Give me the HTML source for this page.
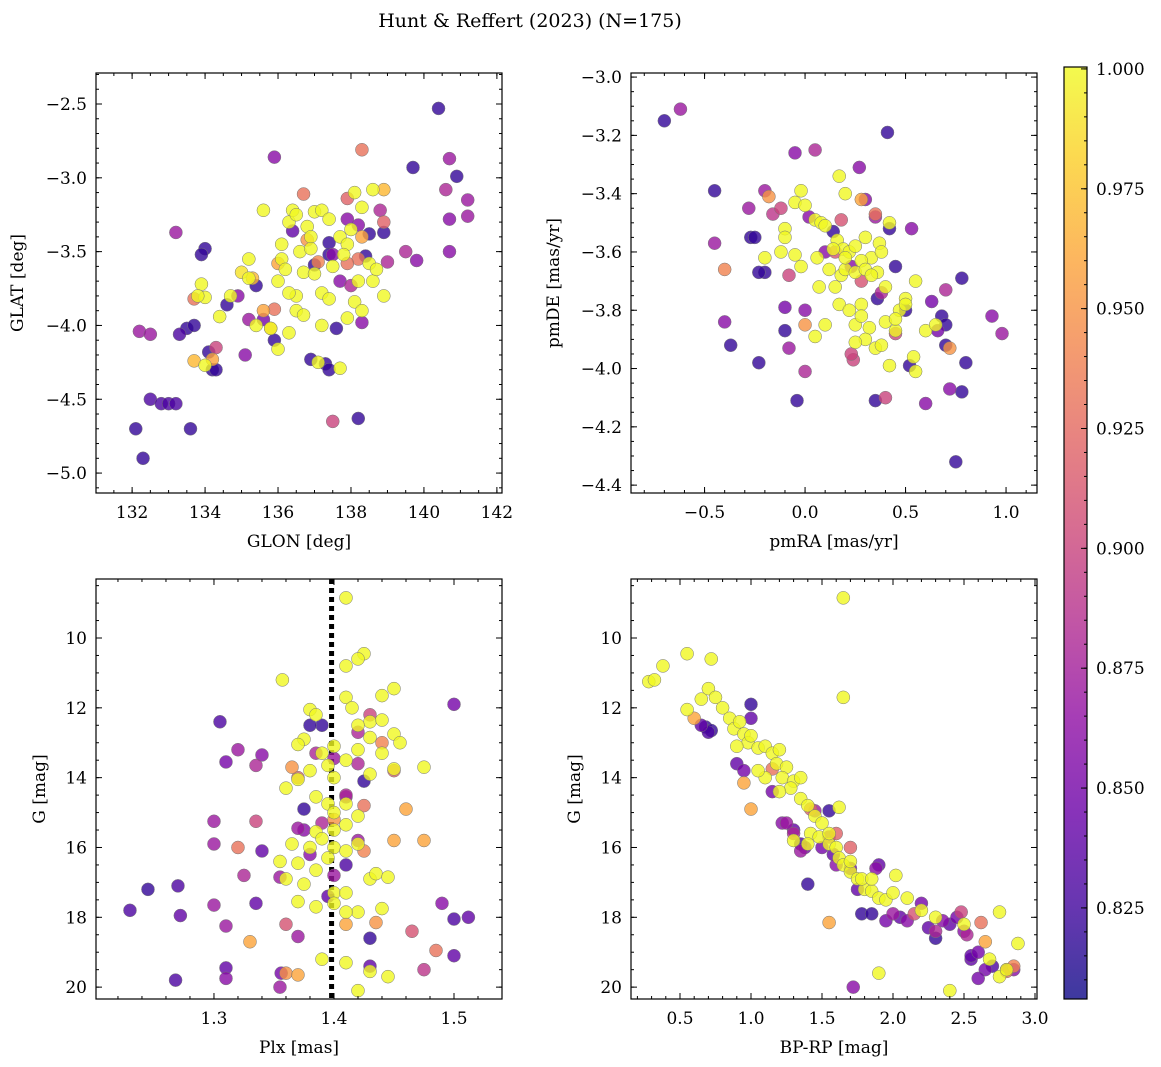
<!DOCTYPE html>
<html><head><meta charset="utf-8"><style>
html,body{margin:0;padding:0;background:#fff;}
svg{display:block;font-family:"DejaVu Serif","Liberation Serif",serif;}
</style></head><body>
<svg id="chart" width="1161" height="1067" viewBox="0 0 1161 1067" xmlns="http://www.w3.org/2000/svg">
<text x="530" y="27" font-size="19" text-anchor="middle">Hunt &amp; Reffert (2023) (N=175)</text>
</svg>
<script>
// ---- Panel 1: GLON vs GLAT ----
const p1X=[132.1,132.3,132.5,132.8,133.0,133.2,133.6,133.5,133.7,133.3,132.2,132.5,133.2,134.0,133.9,134.1,134.2,134.3,134.6,134.9,135.1,135.2,135.4,135.9,135.6,135.9,136.4,137.4,137.4,136.9,137.3,137.4,137.6,138.2,138.5,138.4,138.9,139.7,140.4,140.9,140.7,141.2,141.2,140.6,140.7,140.7,139.8,139.5,139.0,138.8,138.2,137.9,137.5,137.0,137.7,138.0,138.3,137.5,138.3,136.7,137.9,138.9,138.2,135.8,135.9,134.2,133.7,133.7,134.3,135.6,135.3,136.0,136.8,137.1,137.9,138.3,138.9,
135.6,135.2,135.2,135.0,134.7,134.4,134.0,133.9,133.8,134.0,135.4,135.8,136.0,136.0,136.1,136.2,136.3,136.1,136.5,136.3,136.6,136.7,136.4,136.8,136.9,137.0,137.2,137.4,137.0,137.2,137.4,137.2,137.5,137.7,137.9,138.0,138.1,138.3,138.6,138.2,138.1,138.3,137.9,137.7,137.1,136.5,136.7,136.3,138.5,138.6,138.9,138.7,137.8,136.9,136.5];
const p1Y=[-4.70,-4.90,-4.50,-4.53,-4.53,-4.53,-4.70,-4.02,-4.00,-4.06,-4.04,-4.06,-3.37,-3.48,-3.52,-4.18,-4.30,-4.30,-3.86,-3.80,-4.20,-3.96,-3.73,-4.10,-3.96,-2.86,-3.36,-3.44,-3.52,-4.23,-4.26,-4.30,-4.02,-4.63,-3.38,-3.53,-3.37,-2.93,-2.53,-2.99,-2.87,-3.15,-3.26,-3.08,-3.28,-3.50,-3.56,-3.50,-3.57,-3.22,-3.32,-3.28,-3.52,-3.59,-3.70,-3.73,-3.98,-4.65,-2.81,-3.11,-3.14,-3.30,-3.55,-4.02,-3.89,-4.23,-4.24,-3.82,-4.15,-3.90,-3.68,-3.58,-3.42,-3.57,-3.58,-3.40,-3.08,
-3.22,-3.55,-3.68,-3.64,-3.80,-3.94,-3.81,-3.72,-3.80,-4.27,-4.00,-4.02,-4.16,-3.70,-3.55,-3.62,-3.30,-3.45,-3.80,-3.78,-3.50,-3.64,-3.22,-3.33,-3.40,-3.23,-3.22,-3.28,-3.65,-3.78,-3.82,-4.00,-3.60,-3.40,-3.45,-3.35,-3.10,-3.20,-3.08,-3.70,-3.84,-3.90,-3.95,-4.29,-4.25,-3.90,-3.93,-4.05,-3.58,-3.70,-3.80,-3.62,-3.52,-3.48,-3.25];
const p1C=[0.82,0.82,0.83,0.83,0.83,0.83,0.82,0.82,0.82,0.83,0.87,0.87,0.87,0.82,0.82,0.82,0.82,0.82,0.82,0.86,0.86,0.87,0.82,0.82,0.85,0.86,0.84,0.82,0.82,0.82,0.82,0.82,0.82,0.82,0.82,0.82,0.82,0.82,0.82,0.82,0.87,0.87,0.87,0.88,0.86,0.86,0.86,0.88,0.88,0.88,0.86,0.86,0.86,0.82,0.86,0.88,0.86,0.90,0.93,0.93,0.92,0.92,0.93,0.96,0.93,0.96,0.97,0.93,0.90,0.96,0.97,0.96,0.95,0.94,0.93,0.96,0.97,
1,1,1,0.99,1,1,1,1,1,1,1,1,1,1,1,1,1,1,1,1,1,1,1,1,1,1,1,1,1,1,1,1,1,1,1,1,1,1,1,1,1,1,1,1,1,1,1,1,1,1,1,1,1,1,1];

// ---- Panel 2: pmRA vs pmDE ----
const p2X=[-0.70,-0.62,0.41,0.27,-0.05,0.05,-0.45,-0.20,-0.28,-0.27,-0.25,-0.45,-0.40,-0.37,-0.23,-0.20,-0.23,-0.10,-0.10,-0.08,-0.04,0.00,0.10,0.02,0.14,0.23,0.30,0.35,0.36,0.42,0.45,0.53,0.50,0.52,0.63,0.66,0.68,0.70,0.70,0.72,0.78,0.78,0.80,0.75,0.60,0.35,0.40,0.24,0.23,0.28,0.38,0.18,0.15,-0.12,-0.16,-0.08,0.00,0.35,0.45,0.93,0.98,0.70,0.72,-0.18,-0.40,0.00,0.28,
0.17,0.20,-0.02,-0.05,0.00,0.05,0.08,0.10,-0.10,0.16,0.19,0.22,0.25,0.30,0.33,0.37,0.28,0.06,0.12,0.18,0.20,0.25,0.30,0.36,0.07,0.15,0.17,0.22,0.28,0.32,0.25,0.30,0.35,0.40,0.45,0.47,0.50,0.55,0.42,0.38,0.55,0.60,0.65,0.25,0.05,0.10,-0.05,-0.12,-0.20,-0.02,0.42,0.38,0.33,0.28,0.45,-0.10,0.14,0.20,0.40,0.50,0.54];
const p2Y=[-3.15,-3.11,-3.19,-3.31,-3.26,-3.25,-3.39,-3.39,-3.45,-3.55,-3.55,-3.57,-3.84,-3.92,-3.98,-3.67,-3.67,-3.79,-3.87,-3.93,-4.11,-4.01,-3.60,-3.48,-3.53,-3.65,-3.42,-3.48,-3.76,-3.52,-3.65,-3.52,-3.80,-3.99,-3.77,-3.87,-3.82,-3.92,-3.85,-4.07,-3.69,-4.08,-3.98,-4.32,-4.12,-4.11,-4.10,-3.97,-3.95,-3.70,-3.74,-3.49,-3.60,-3.45,-3.47,-3.68,-3.80,-3.47,-3.88,-3.82,-3.88,-3.73,-3.93,-3.41,-3.66,-3.85,-3.42,
-3.34,-3.40,-3.39,-3.43,-3.44,-3.49,-3.50,-3.51,-3.52,-3.56,-3.59,-3.60,-3.58,-3.55,-3.62,-3.57,-3.63,-3.62,-3.66,-3.68,-3.66,-3.67,-3.66,-3.67,-3.72,-3.72,-3.78,-3.80,-3.78,-3.86,-3.85,-3.90,-3.93,-3.84,-3.87,-3.80,-3.76,-3.70,-3.99,-3.92,-4.01,-3.87,-3.85,-3.91,-3.89,-3.85,-3.61,-3.60,-3.62,-3.65,-3.50,-3.60,-3.68,-3.82,-3.83,-3.55,-3.59,-3.62,-3.72,-3.78,-3.96];
const p2C=[0.82,0.87,0.82,0.86,0.86,0.88,0.82,0.87,0.87,0.82,0.82,0.87,0.86,0.82,0.82,0.82,0.82,0.85,0.82,0.87,0.82,0.88,0.86,0.86,0.82,0.86,0.86,0.87,0.82,0.82,0.82,0.86,0.82,0.82,0.85,0.85,0.82,0.82,0.82,0.86,0.82,0.82,0.82,0.82,0.86,0.82,0.90,0.90,0.90,0.91,0.88,0.91,0.91,0.90,0.89,0.90,0.86,0.93,0.90,0.86,0.87,0.88,0.95,0.95,0.94,0.95,0.96,
1,1,1,1,1,1,1,1,1,1,1,1,1,1,1,1,1,1,1,1,1,1,1,1,1,1,1,1,1,1,1,1,1,1,1,1,1,1,1,1,1,1,1,1,1,1,1,1,1,1,1,1,1,1,1,1,1,1,1,1,1];

// ---- Panel 3: Plx vs G ----
const p3X=[1.41,1.425,1.42,1.41,1.357,1.45,1.44,1.41,1.415,1.38,1.385,1.43,1.44,1.42,1.45,1.43,1.375,1.37,1.40,1.39,1.42,1.455,1.44,1.41,1.395,1.38,1.40,1.37,1.43,1.45,1.475,1.36,1.385,1.395,1.41,1.40,1.42,1.41,1.40,1.385,1.39,1.365,1.38,1.40,1.42,1.355,1.37,1.395,1.41,1.385,1.36,1.43,1.435,1.445,1.375,1.40,1.41,1.37,1.385,1.40,1.42,1.41,1.44,1.39,1.41,1.43,1.445,1.42,
1.33,1.36,1.37,1.365,1.40,1.46,1.475,1.45,1.41,1.435,1.37,1.425,1.32,1.425,1.44,
1.305,1.32,1.34,1.335,1.31,1.335,1.30,1.30,1.325,1.335,1.30,1.31,1.31,1.31,1.27,1.272,1.245,1.23,1.268,1.355,1.356,1.34,1.355,1.36,1.37,1.37,1.375,1.375,1.385,1.39,1.38,1.40,1.41,1.41,1.41,1.42,1.425,1.43,1.42,1.42,1.43,1.43,1.45,1.465,1.475,1.485,1.49,1.50,1.50,1.50,1.512,1.395,1.38,1.39,1.40];
const p3Y=[8.85,10.45,10.6,10.8,11.2,11.45,11.65,11.7,12.0,12.05,12.2,12.4,12.35,12.5,12.75,12.85,12.9,13.05,13.1,13.3,13.2,13.0,13.3,13.5,13.65,13.8,14.0,14.05,13.9,13.75,13.7,14.3,14.55,14.75,14.75,15.0,15.1,15.35,15.5,15.55,15.75,15.9,16.0,16.0,15.9,16.4,16.45,16.3,16.1,16.65,16.9,16.9,16.75,16.85,17.05,17.3,17.3,17.55,17.7,17.6,17.85,17.85,17.75,19.2,19.3,19.55,19.7,20.1,
18.7,19.6,19.65,13.7,15.2,14.9,15.8,15.8,18.2,18.15,14.0,14.8,16.0,16.1,13.0,
12.4,13.2,13.35,13.65,13.55,15.25,15.25,15.9,16.8,17.6,17.65,18.25,19.45,19.75,17.1,17.95,17.2,17.8,19.8,20.0,19.6,16.1,16.85,18.2,18.55,15.45,14.9,15.5,13.3,12.5,12.5,13.45,14.5,16.5,14.55,15.8,14.1,12.2,12.7,13.6,18.6,19.4,13.8,18.4,19.5,18.95,17.6,19.1,11.9,18.05,18.0,17.4,16.2,15.3,16.8];
const p3C=[1,1,1,1,1,1,1,1,1,1,1,1,1,1,1,1,1,1,1,1,1,1,1,1,1,1,1,1,1,1,1,1,1,1,1,1,1,1,1,1,1,1,1,1,1,1,1,1,1,1,1,1,1,1,1,1,1,1,1,1,1,1,1,1,1,1,1,1,
0.96,0.95,0.96,0.95,0.95,0.96,0.96,0.96,0.96,0.95,0.92,0.93,0.93,0.94,0.94,
0.83,0.87,0.86,0.88,0.85,0.90,0.87,0.87,0.88,0.84,0.87,0.87,0.84,0.86,0.83,0.84,0.82,0.83,0.83,0.87,0.85,0.84,0.87,0.91,0.87,0.87,0.82,0.86,0.88,0.82,0.82,0.87,0.88,0.83,0.86,0.87,0.82,0.90,0.88,0.88,0.82,0.84,0.92,0.91,0.89,0.93,0.86,0.84,0.85,0.83,0.84,0.84,0.86,0.88,0.87];

// ---- Panel 4: BP-RP vs G ----
const p4X=[0.28,0.32,0.38,0.55,0.72,0.55,0.65,0.70,0.75,0.80,0.85,0.88,0.92,0.95,0.98,1.0,1.05,1.1,1.15,1.2,1.18,1.25,1.22,1.3,1.35,1.28,1.35,1.4,1.45,1.5,1.42,1.48,1.55,1.6,1.62,1.65,1.7,1.75,1.8,1.85,1.9,1.95,2.0,2.1,2.2,2.3,2.5,2.68,2.75,2.8,2.88,2.75,1.65,1.65,1.9,2.4,1.62,1.55,1.78,2.02,1.85,1.4,1.3,1.2,1.1,1.05,0.9,1.7,
0.6,0.95,1.0,1.15,1.42,1.55,1.6,1.7,2.15,2.48,2.62,2.65,2.8,2.85,2.52,1.25,1.3,1.35,1.45,1.55,2.0,2.3,
0.68,0.7,0.72,0.65,0.9,0.95,1.0,1.0,1.15,1.22,1.3,1.35,1.38,1.4,1.55,1.5,1.58,1.6,1.7,1.75,1.78,1.72,1.88,1.9,1.85,1.95,2.05,2.1,2.2,2.25,2.3,2.35,2.4,2.45,2.5,2.55,2.6,2.7,2.8,2.85,2.65,2.55,2.6];
const p4Y=[11.25,11.2,10.8,10.45,10.6,12.05,11.75,11.45,11.7,12.0,12.3,12.6,12.4,12.75,13.0,12.8,13.15,13.1,13.3,13.2,13.6,13.7,14.0,14.1,14.0,14.3,14.6,14.8,15.1,15.3,15.6,15.7,15.9,16.0,16.3,16.5,16.7,16.9,17.2,17.25,17.45,17.5,17.3,17.45,17.8,18.0,18.2,19.2,19.7,19.5,18.75,17.85,8.85,11.7,19.6,20.1,14.85,15.6,16.9,16.8,16.9,15.9,15.8,14.4,14.0,13.8,13.1,16.4,
12.3,14.15,14.9,13.75,14.9,18.15,15.6,16.0,17.9,17.85,18.15,18.7,19.55,19.4,18.5,15.3,15.6,16.1,14.95,15.7,17.9,18.4,
12.55,12.7,12.65,12.5,13.6,13.8,11.9,12.3,14.4,15.3,15.5,15.9,16.0,17.05,14.95,16.0,16.2,16.5,16.6,17.2,17.9,20.0,16.6,16.5,17.9,18.1,18.0,18.1,17.6,18.3,18.6,18.1,18.2,18.0,18.4,19.2,19.0,19.4,19.5,19.5,19.5,19.1,19.75];
const p4C=[1,1,1,1,1,1,1,1,1,1,1,1,1,1,1,1,1,1,1,1,1,1,1,1,1,1,1,1,1,1,1,1,1,1,1,1,1,1,1,1,1,1,1,1,1,1,1,1,1,1,1,1,1,1,1,1,1,1,1,1,1,1,1,1,1,1,1,1,
0.96,0.96,0.96,0.93,0.92,0.96,0.92,0.92,0.91,0.90,0.93,0.96,0.93,0.94,0.88,0.87,0.88,0.87,0.87,0.88,0.87,0.88,
0.82,0.83,0.82,0.84,0.84,0.85,0.82,0.84,0.85,0.86,0.84,0.83,0.85,0.82,0.82,0.85,0.84,0.86,0.85,0.84,0.82,0.86,0.86,0.84,0.82,0.85,0.84,0.86,0.85,0.84,0.82,0.86,0.84,0.85,0.86,0.84,0.85,0.83,0.84,0.86,0.85,0.84,0.85];

const cbTicks=[0.825,0.850,0.875,0.900,0.925,0.950,0.975,1.000];
const CMIN=0.806, CMAX=1.0004;

const NS='http://www.w3.org/2000/svg';
const svg=document.getElementById('chart');
function mk(tag,attrs,parent){const e=document.createElementNS(NS,tag);for(const k in attrs)e.setAttribute(k,attrs[k]);(parent||svg).appendChild(e);return e;}
const plasma=[[13,8,135],[65,4,157],[106,0,168],[143,13,164],[177,42,144],[204,71,120],[225,100,98],[242,132,75],[252,166,54],[252,206,37],[240,249,33]];
function cmap(c){let t=(c-CMIN)/(CMAX-CMIN);t=Math.max(0,Math.min(1,t))*10;const i=Math.min(9,Math.floor(t)),f=t-i;const a=plasma[i],b=plasma[i+1];return 'rgb('+[0,1,2].map(k=>Math.round(a[k]+(b[k]-a[k])*f)).join(',')+')';}
function fmt(v,d){return (v<0?'\u2212':'')+Math.abs(v).toFixed(d);}
const FS=17;

function panel(name,box,xd,yd,xt,yt,xl,yl,xs,ys,xdig,ydig,xminor,yminor,X,Y,C,vline){
  const [L,T,R,B]=box;
  const g=mk('g',{});
  
  
  const sx=v=>L+(v-xd[0])/(xd[1]-xd[0])*(R-L);
  const sy=v=>T+(v-yd[0])/(yd[1]-yd[0])*(B-T);
  const clip=mk('clipPath',{id:'clip-'+name},g);mk('rect',{x:L,y:T,width:R-L,height:B-T},clip);
  const pg=mk('g',{'clip-path':'url(#clip-'+name+')'},g);
  if(vline!==undefined){const vl=mk('line',{x1:sx(vline),x2:sx(vline),y1:T,y2:B,stroke:'#000','stroke-width':5,'stroke-dasharray':'5,4'},pg);
    
    }
  const idx=X.map((_,i)=>i).sort((a,b)=>C[a]-C[b]);
  idx.forEach(i=>{const c=mk('circle',{cx:sx(X[i]),cy:sy(Y[i]),r:6.5,fill:cmap(C[i]),'fill-opacity':0.8,stroke:'#777','stroke-width':0.5},pg);
    
    });
  mk('rect',{x:L,y:T,width:R-L,height:B-T,fill:'none',stroke:'#000','stroke-width':1.2},g);
  const lo=Math.min(...xd),hi=Math.max(...xd);
  for(let v=Math.ceil(lo/xminor-1e-6)*xminor;v<=hi+1e-9;v+=xminor){const x=sx(v);mk('line',{x1:x,x2:x,y1:B,y2:B-3,stroke:'#000'},g);mk('line',{x1:x,x2:x,y1:T,y2:T+3,stroke:'#000'},g);}
  const ylo=Math.min(...yd),yhi=Math.max(...yd);
  for(let v=Math.ceil(ylo/yminor-1e-6)*yminor;v<=yhi+1e-9;v+=yminor){const y=sy(v);mk('line',{x1:L,x2:L+3,y1:y,y2:y,stroke:'#000'},g);mk('line',{x1:R,x2:R-3,y1:y,y2:y,stroke:'#000'},g);}
  xt.forEach(v=>{const x=sx(v);mk('line',{x1:x,x2:x,y1:B,y2:B-6,stroke:'#000'},g);mk('line',{x1:x,x2:x,y1:T,y2:T+6,stroke:'#000'},g);
    const t=mk('text',{x:x,y:B+25,'font-size':FS,'text-anchor':'middle'},g);t.textContent=fmt(v,xdig);
    
    });
  yt.forEach(v=>{const y=sy(v);mk('line',{x1:L,x2:L+6,y1:y,y2:y,stroke:'#000'},g);mk('line',{x1:R,x2:R-6,y1:y,y2:y,stroke:'#000'},g);
    const t=mk('text',{x:L-9,y:y+6,'font-size':FS,'text-anchor':'end'},g);t.textContent=fmt(v,ydig);
    
    });
  const xlab=mk('text',{x:(L+R)/2,y:B+54,'font-size':FS,'text-anchor':'middle'},g);xlab.textContent=xl;
  
  
  const ylab=mk('text',{x:0,y:0,'font-size':FS,'text-anchor':'middle',transform:'translate('+(ys)+','+((T+B)/2)+') rotate(-90)'},g);ylab.textContent=yl;
  
  
}
panel('panel-glon-glat',[96,73,502,493],[131.01,142.14],[-2.29,-5.135],[132,134,136,138,140,142],[-2.5,-3.0,-3.5,-4.0,-4.5,-5.0],'GLON [deg]','GLAT [deg]',0,23,0,1,0.5,0.1,p1X,p1Y,p1C);
panel('panel-pmra-pmde',[631,73,1037,493],[-0.866,1.154],[-2.986,-4.427],[-0.5,0.0,0.5,1.0],[-3.0,-3.2,-3.4,-3.6,-3.8,-4.0,-4.2,-4.4],'pmRA [mas/yr]','pmDE [mas/yr]',0,559,1,1,0.1,0.05,p2X,p2Y,p2C);
panel('panel-plx-g',[96,579,502,999],[1.2017,1.540],[8.31,20.34],[1.3,1.4,1.5],[10,12,14,16,18,20],'Plx [mas]','G [mag]',0,45,1,0,0.02,0.5,p3X,p3Y,p3C,1.398);
panel('panel-bprp-g',[631,579,1037,999],[0.155,3.014],[8.31,20.34],[0.5,1.0,1.5,2.0,2.5,3.0],[10,12,14,16,18,20],'BP-RP [mag]','G [mag]',0,580,1,0,0.1,0.5,p4X,p4Y,p4C);

// colorbar
const cb=mk('g',{});


const defs=mk('defs',{},cb);const lg=mk('linearGradient',{id:'cbg',x1:0,y1:1,x2:0,y2:0},defs);
for(let i=0;i<=10;i++){mk('stop',{offset:i/10,'stop-color':'rgb('+plasma[i].join(',')+')','stop-opacity':0.8},lg);}
const CBT=67,CBB=999,CBL=1064,CBR=1087;
mk('rect',{x:CBL,y:CBT,width:CBR-CBL,height:CBB-CBT,fill:'url(#cbg)',stroke:'#000','stroke-width':1.2},cb);
const cy=v=>CBB-(v-CMIN)/(CMAX-CMIN)*(CBB-CBT);
for(let v=0.81;v<=1.0001;v+=0.005){mk('line',{x1:CBR,x2:CBR-3,y1:cy(v),y2:cy(v),stroke:'#000'},cb);}
cbTicks.forEach(v=>{const y=cy(v);mk('line',{x1:CBR,x2:CBR-6,y1:y,y2:y,stroke:'#000'},cb);
  const t=mk('text',{x:CBR+9,y:y+6,'font-size':FS},cb);t.textContent=v.toFixed(3);
  
  });
</script>
</body></html>
